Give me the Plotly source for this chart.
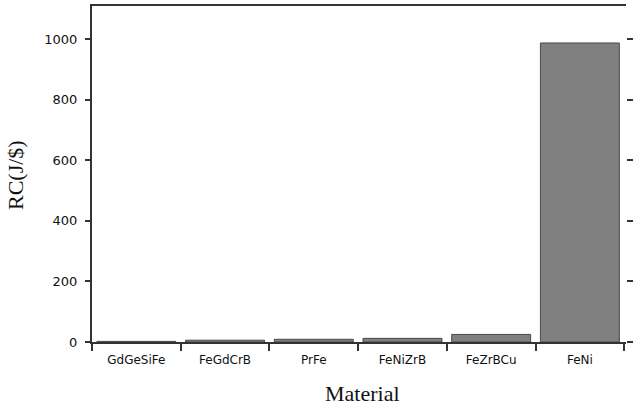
import plotly.graph_objects as go

materials = ["GdGeSiFe", "FeGdCrB", "PrFe", "FeNiZrB", "FeZrBCu", "FeNi"]
rc_values = [2, 6, 9, 12, 25, 987]
y_ticks = [0, 200, 400, 600, 800, 1000]

fig = go.Figure()
fig.add_trace(go.Bar(
    x=materials, y=rc_values,
    marker=dict(color="#808080", line=dict(color="#4a4a4a", width=1)),
    width=0.89,
))
# invisible trace for right-side mirrored ticks
fig.add_trace(go.Scatter(x=materials, y=rc_values, yaxis="y2", mode="none",
                         showlegend=False, hoverinfo="skip"))

fig.update_layout(
    width=633, height=409,
    margin=dict(l=92, r=7, t=6, b=67, autoexpand=False),
    paper_bgcolor="white", plot_bgcolor="white",
    showlegend=False,
    bargap=0.1,
    font=dict(family="DejaVu Sans", color="#111111", size=12),
    xaxis=dict(
        automargin=False,
        showline=True, linecolor="#333333", linewidth=2, mirror=True,
        ticks="outside", ticklen=7, tickwidth=2, tickcolor="#333333",
        tickson="boundaries", showgrid=False,
        range=[-0.5, 5.52],
        ticklabelstandoff=6,
        tickfont=dict(family="DejaVu Sans", size=12, color="#111111"),
    ),
    yaxis=dict(
        automargin=False,
        range=[0, 1109],
        tickvals=y_ticks,
        showline=True, linecolor="#333333", linewidth=2,
        ticks="outside", ticklen=5, tickwidth=2, tickcolor="#333333",
        showgrid=False, zeroline=False,
        ticklabelstandoff=5,
        tickfont=dict(family="DejaVu Sans", size=13, color="#111111"),
    ),
    yaxis2=dict(
        automargin=False,
        overlaying="y", side="right", range=[0, 1109],
        tickvals=y_ticks, showticklabels=False,
        ticks="outside", ticklen=7, tickwidth=2, tickcolor="#333333",
        showline=False, showgrid=False, zeroline=False,
    ),
    annotations=[
        dict(text="Material", xref="paper", yref="paper", x=(362 - 92) / 534, y=-(403 - 342) / 336,
             xanchor="center", yanchor="bottom", showarrow=False, yshift=-5,
             font=dict(family="Liberation Serif", size=22, color="#111111")),
        dict(text="RC(J/$)", xref="paper", yref="paper", x=-(92 - 15) / 534, y=(342 - 175) / 336,
             xanchor="center", yanchor="middle", showarrow=False, textangle=-90,
             font=dict(family="Liberation Serif", size=22, color="#111111")),
    ],
)

fig.write_html("out.html", config={"displayModeBar": False},
               post_script="document.body.style.margin='0';document.body.style.overflow='hidden';")
